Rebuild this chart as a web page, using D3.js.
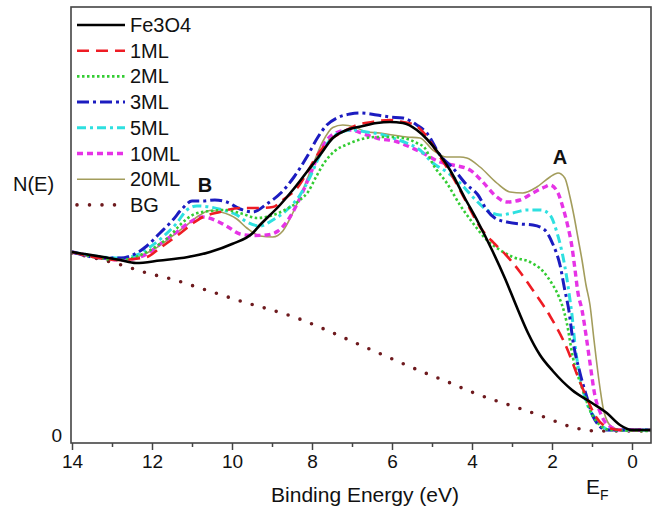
<!DOCTYPE html>
<html>
<head>
<meta charset="utf-8">
<script src="https://cdn.jsdelivr.net/npm/d3@7"></script>
<style>
  body { margin: 0; background: #fff; }
  text { font-family: "Liberation Sans", Arial, sans-serif; fill: #111; }
</style>
</head>
<body>
<svg id="chart"></svg>
<script>
// [binding energy (eV), N(E) arbitrary units]
const fe3o4 = [[14,179],[12.8,171],[12.4,168],[11.8,170.5],[11.1,174],[10.55,179],[10,187],[9.48,198],[9.3,206],
  [8.8,226],[8.48,241],[8.13,259],[7.8,276],[7.48,293],[7.13,301],[6.73,305],[6.38,308],[6.05,309],[5.73,308],
  [5.38,301],[5.13,292],[4.8,276],[4.55,261],[4.18,233],[3.85,209],[3.5,181],[3.18,153],[2.85,121],[2.6,98],
  [2.3,76],[1.98,60],[1.5,41],[1.0,28],[0.63,18],[0.3,6],[0,1],[-0.5,1]];
const ml1 = [[14,179],[12.8,171],[12.13,174],[11.8,183],[11.35,196],[10.93,209],[10.73,214],[10.3,219],[9.8,223],
  [9.3,223],[8.98,224],[8.73,231],[8.35,244],[8.13,258],[7.9,274],[7.55,291],[7.23,299],[6.88,306],[6.5,309],
  [6.05,311],[5.73,309],[5.43,306],[5.2,298],[4.8,274],[4.48,254],[4.13,228],[3.8,204],[3.43,187],[3.15,176],
  [2.8,159],[2.43,138],[2.05,115],[1.63,83],[1.35,54],[1.13,33],[0.93,16],[0.63,4],[0.3,1],[-0.5,1]];
const ml2 = [[14,179],[12.8,171],[12.23,177],[11.88,185],[11.55,195],[11.3,206],[10.93,217],[10.55,220],[10.18,221],
  [9.73,217],[9.38,213],[9.05,215],[8.68,221],[8.3,231],[8.1,239],[7.9,254],[7.68,269],[7.43,280],[7.1,287],
  [6.75,292],[6.38,294],[6.05,294],[5.73,293],[5.38,288],[5.18,283],[4.98,267],[4.63,248],[4.3,226],[3.98,208],
  [3.63,191],[3.3,181],[2.98,174],[2.55,169],[2.23,160],[1.98,146],[1.88,139],[1.63,108],[1.48,74],[1.23,41],
  [0.98,15],[0.55,1],[-0.5,0]];
const ml3 = [[14,179],[13.23,173],[12.8,173],[12.48,176],[12.13,185],[11.8,198],[11.5,210],[11.23,223],[11,230],
  [10.73,230],[10.43,231],[10.13,229],[9.8,222],[9.48,219],[9.13,227],[8.78,238],[8.45,254],[8.13,274],[7.85,294],
  [7.63,306],[7.38,313],[7.05,317],[6.8,318],[6.38,316],[6.05,314],[5.73,313],[5.38,306],[5.13,298],[4.8,276],
  [4.48,263],[4.15,247],[3.85,236],[3.63,221],[3.43,213],[3.13,209],[2.8,207],[2.48,206],[2.18,201],[1.98,187],
  [1.8,166],[1.68,141],[1.58,121],[1.48,91],[1.3,58],[1.13,34],[0.98,15],[0.63,1],[-0.5,1]];
const ml5 = [[14,179],[12.8,173],[12.38,176],[12.05,184],[11.73,194],[11.38,208],[11.13,221],[10.88,225],[10.55,224],
  [10.23,221],[9.88,216],[9.63,209],[9.3,205],[8.98,211],[8.63,221],[8.3,236],[8.05,254],[7.8,276],[7.55,291],
  [7.3,298.5],[6.98,301],[6.63,299],[6.3,297],[5.98,293],[5.63,288],[5.3,281],[4.98,268],[4.63,259],[4.3,248],
  [3.98,234],[3.63,221],[3.3,216],[2.98,218],[2.63,221],[2.28,221],[2.05,216],[1.88,199],[1.75,179],[1.63,153],
  [1.55,131],[1.5,116],[1.43,88],[1.3,54],[1.13,28],[0.88,11],[0.55,1],[-0.5,1]];
const ml10 = [[14,179],[13.23,173],[12.8,171],[12.38,173],[12.05,179],[11.73,189],[11.38,199],[11.05,209],[10.73,214],
  [10.38,210],[10.1,204],[9.8,197],[9.48,195.5],[9.13,196],[8.85,200],[8.55,214],[8.3,233],[8.05,256],[7.8,279.5],
  [7.6,292.5],[7.35,299],[7.03,301],[6.7,297],[6.3,292],[5.93,290],[5.55,284],[5.23,278],[4.8,269],[4.48,266],
  [4.05,261],[3.73,249],[3.38,234],[3.13,229],[2.8,231],[2.48,238],[2.18,244],[2.05,246],[1.85,238],[1.73,224],
  [1.6,204],[1.5,184],[1.43,163],[1.35,138],[1.25,121],[1.15,96],[1.05,68],[0.93,36],[0.8,19],[0.63,7],[0.3,1],[-0.5,1]];
const ml20 = [[14,179],[12.8,171],[12.38,174],[11.98,181],[11.55,193],[11.13,206],[10.8,216],[10.55,220.5],[10.28,219],
  [9.88,212],[9.63,203],[9.3,195],[8.98,194],[8.73,200],[8.48,218],[8.23,241],[7.98,266],[7.73,289.5],[7.48,303.5],
  [7.23,306],[6.93,304],[6.63,299],[6.3,298],[5.98,296],[5.63,294],[5.3,293],[4.98,281],[4.63,274],[4.3,274],
  [4.13,273],[3.8,264],[3.38,248],[3.05,239],[2.73,238],[2.38,244],[2.05,254],[1.85,258],[1.68,253],[1.55,234],
  [1.45,215],[1.35,193],[1.25,171],[1.15,146],[1.05,126],[0.95,91],[0.8,43],[0.7,19],[0.5,4],[0.13,0],[-0.5,0]];
const bg = [[14,178],[12.76,166],[12.13,158],[11.51,152],[10.88,144],[10.26,136],[9.63,128],[9.01,121],[8.38,113],
  [7.76,103],[7.13,92],[6.51,81],[5.88,70],[5.26,59.5],[4.63,49.5],[4.01,39],[3.38,30],[2.76,22],[2.13,13],
  [1.51,4],[0.88,0],[-0.5,0]];

const seriesNames = ["Fe3O4", "1ML", "2ML", "3ML", "5ML", "10ML", "20ML", "BG"];
const seriesData = [fe3o4, ml1, ml2, ml3, ml5, ml10, ml20, bg];
const xTicks = [14, 12, 10, 8, 6, 4, 2, 0];
const xMinorTicks = [13, 11, 9, 7, 5, 3, 1];

const styles = {
  "Fe3O4": { color: "#000000", width: 2.6, dash: null },
  "1ML":   { color: "#ee1c24", width: 2.6, dash: "12,7" },
  "2ML":   { color: "#33cc33", width: 2.6, dash: "2.5,2.5" },
  "3ML":   { color: "#1c1cc0", width: 3, dash: "12,4,3,4" },
  "5ML":   { color: "#2ee0e0", width: 3, dash: "9,4,3,4" },
  "10ML":  { color: "#e633e6", width: 3.4, dash: "6,4" },
  "20ML":  { color: "#a39d5c", width: 1.6, dash: null },
  "BG":    { color: "#6e1a1e", width: 3.6, dash: "0,12.5", cap: "round" }
};

const width = 657, height = 510;
const plotLeft = 71, plotRight = 651, plotTop = 7, plotBottom = 443;

const svg = d3.select("#chart").attr("width", width).attr("height", height);

const x = d3.scaleLinear().domain([14, -0.5]).range([plotLeft + 1, plotRight + 1]);
const y = d3.scaleLinear().domain([-12, 424]).range([plotBottom, plotTop]);

const line = d3.line()
  .x(d => x(d[0]))
  .y(d => y(d[1]))
  .curve(d3.curveMonotoneX);

svg.append("clipPath").attr("id", "plot-clip")
  .append("rect").attr("x", plotLeft).attr("y", plotTop)
  .attr("width", plotRight - plotLeft).attr("height", plotBottom - plotTop);

// draw order: heavier overlays last
const drawOrder = ["BG", "20ML", "10ML", "5ML", "3ML", "2ML", "1ML", "Fe3O4"];
const plot = svg.append("g").attr("clip-path", "url(#plot-clip)");
drawOrder.forEach(name => {
  const s = styles[name];
  plot.append("path")
    .datum(seriesData[seriesNames.indexOf(name)])
    .attr("d", line)
    .attr("fill", "none")
    .attr("stroke", s.color)
    .attr("stroke-width", s.width)
    .attr("stroke-dasharray", s.dash)
    .attr("stroke-linecap", s.cap || "butt")
    .attr("stroke-linejoin", "round");
});

// frame
svg.append("rect")
  .attr("x", plotLeft).attr("y", plotTop)
  .attr("width", plotRight - plotLeft).attr("height", plotBottom - plotTop)
  .attr("fill", "none")
  .attr("stroke", "#444")
  .attr("stroke-width", 1.6);

// x axis
const xAxis = svg.append("g").attr("transform", `translate(0,${plotBottom})`);
xAxis.call(d3.axisBottom(x).tickValues(xTicks).tickSize(7).tickPadding(5).tickFormat(d3.format("d")));
xAxis.select(".domain").remove();
xAxis.selectAll(".tick line").attr("stroke", "#444").attr("stroke-width", 1.5);
xAxis.selectAll(".tick text").attr("font-size", 19).attr("font-family", "Liberation Sans, Arial, sans-serif").attr("fill", "#111");

const xMinor = svg.append("g").attr("transform", `translate(0,${plotBottom})`);
xMinor.call(d3.axisBottom(x).tickValues(xMinorTicks).tickSize(4).tickFormat(""));
xMinor.select(".domain").remove();
xMinor.selectAll(".tick line").attr("stroke", "#444").attr("stroke-width", 1.5);

svg.append("text")
  .attr("x", 365).attr("y", 502)
  .attr("text-anchor", "middle")
  .attr("font-size", 21)
  .text("Binding Energy (eV)");

const ef = svg.append("text").attr("x", 586).attr("y", 494).attr("font-size", 21);
ef.append("tspan").text("E");
ef.append("tspan").attr("font-size", 14).attr("dy", 6).text("F");

// y labels
svg.append("text")
  .attr("x", 62).attr("y", 442)
  .attr("text-anchor", "end")
  .attr("font-size", 19)
  .text("0");

svg.append("text")
  .attr("x", 13).attr("y", 191)
  .attr("font-size", 20)
  .text("N(E)");

// peak labels
svg.append("text").attr("x", 205).attr("y", 192).attr("text-anchor", "middle")
  .attr("font-size", 20).attr("font-weight", "bold").text("B");
svg.append("text").attr("x", 560).attr("y", 164).attr("text-anchor", "middle")
  .attr("font-size", 20).attr("font-weight", "bold").text("A");

// legend
const legend = svg.append("g");
seriesNames.forEach((name, i) => {
  const s = styles[name];
  const cy = 25 + i * 25.7;
  legend.append("line")
    .attr("x1", 77).attr("x2", 125)
    .attr("y1", cy).attr("y2", cy)
    .attr("stroke", s.color)
    .attr("stroke-width", s.width)
    .attr("stroke-dasharray", s.dash)
    .attr("stroke-linecap", s.cap || "butt");
  legend.append("text")
    .attr("x", 130).attr("y", cy + 7)
    .attr("font-size", 20)
    .text(name);
});
</script>
</body>
</html>
